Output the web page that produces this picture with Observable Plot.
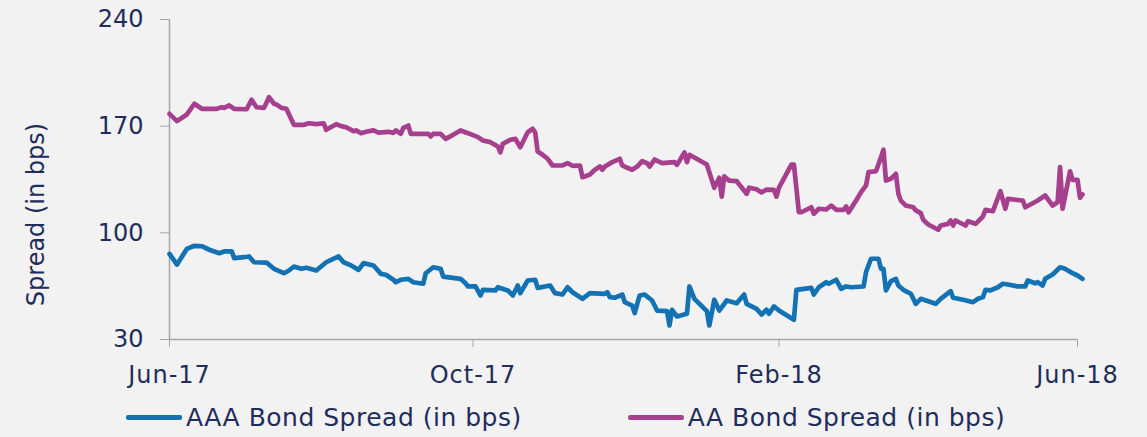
<!DOCTYPE html>
<html>
<head>
<meta charset="utf-8">
<script src="https://cdn.jsdelivr.net/npm/d3@7"></script>
<script src="https://cdn.jsdelivr.net/npm/@observablehq/plot@0.6"></script>
<style>
  html, body { margin: 0; padding: 0; background: #f2f2f2; }
  #chart { width: 1147px; height: 437px; overflow: hidden; background: #f2f2f2; }
  .legend { display: flex; align-items: center; height: 50px; padding-left: 126px;
            font-family: "DejaVu Sans", sans-serif; font-size: 25px; letter-spacing: 0.5px; color: #1f2d5c; }
  .legend .item { display: flex; align-items: center; }
  .legend .sw { display: inline-block; width: 56px; height: 5px; border-radius: 2px; margin-right: 4px; }
  g[aria-label="x-axis tick label"] text { letter-spacing: 1px; }
</style>
</head>
<body>
<div id="chart"></div>
<script>
const yTitle = "Spread (in bps)";
const yTicks = [30, 100, 170, 240];
const xTicks = ["2017-06-01", "2017-10-01", "2018-02-01", "2018-06-01"];
const seriesNames = ["AAA Bond Spread (in bps)", "AA Bond Spread (in bps)"];
const seriesColors = ["#1372b3", "#a6408e"];

const aaaDates = [
  "2017-06-01","2017-06-04","2017-06-08","2017-06-11","2017-06-14","2017-06-17","2017-06-21","2017-06-23","2017-06-26","2017-06-27",
  "2017-07-01","2017-07-03","2017-07-05","2017-07-10","2017-07-13","2017-07-17","2017-07-19","2017-07-21","2017-07-24","2017-07-26",
  "2017-07-30","2017-08-03","2017-08-05","2017-08-08","2017-08-10","2017-08-13","2017-08-16","2017-08-18","2017-08-22","2017-08-25",
  "2017-08-27","2017-08-30","2017-08-31","2017-09-02","2017-09-05","2017-09-07","2017-09-11","2017-09-12","2017-09-15","2017-09-18",
  "2017-09-19","2017-09-26","2017-09-28","2017-09-29","2017-10-02","2017-10-04","2017-10-05","2017-10-10","2017-10-11","2017-10-15",
  "2017-10-17","2017-10-19","2017-10-20","2017-10-23","2017-10-26","2017-10-27","2017-11-01","2017-11-03","2017-11-06","2017-11-08",
  "2017-11-10","2017-11-14","2017-11-17","2017-11-23","2017-11-24","2017-11-25","2017-11-27","2017-11-30","2017-12-01","2017-12-04",
  "2017-12-05","2017-12-07","2017-12-09","2017-12-12","2017-12-14","2017-12-18","2017-12-19","2017-12-20","2017-12-22","2017-12-26",
  "2017-12-27","2017-12-29","2018-01-03","2018-01-04","2018-01-06","2018-01-08","2018-01-11","2018-01-15","2018-01-18","2018-01-19",
  "2018-01-23","2018-01-25","2018-01-27","2018-01-28","2018-01-30","2018-02-01","2018-02-07","2018-02-08","2018-02-14","2018-02-15",
  "2018-02-17","2018-02-20","2018-02-21","2018-02-24","2018-02-26","2018-02-28","2018-03-02","2018-03-07","2018-03-08","2018-03-10",
  "2018-03-13","2018-03-14","2018-03-15","2018-03-16","2018-03-18","2018-03-20","2018-03-21","2018-03-23","2018-03-26","2018-03-27",
  "2018-03-28","2018-03-30","2018-04-05","2018-04-07","2018-04-11","2018-04-12","2018-04-16","2018-04-20","2018-04-22","2018-04-24",
  "2018-04-25","2018-04-27","2018-04-30","2018-05-02","2018-05-04","2018-05-08","2018-05-11","2018-05-12","2018-05-15","2018-05-16",
  "2018-05-18","2018-05-19","2018-05-22","2018-05-25","2018-05-27","2018-05-30","2018-06-01","2018-06-03"
];
const aaaValues = [
  86.2,79.2,89.5,91.5,91.2,88.9,86.6,87.8,87.8,83.4,
  84.0,84.5,80.7,80.5,76.4,73.5,75.3,77.9,76.4,77.1,
  75.3,80.7,82.3,84.5,80.7,78.6,75.7,80.1,78.6,73.1,
  72.5,69.2,67.6,69.2,69.8,67.6,66.6,73.5,77.4,76.4,
  71.3,69.8,66.9,64.8,64.8,58.9,62.6,62.2,64.3,62.2,
  58.9,65.4,60.4,68.7,69.2,63.9,65.4,60.4,59.5,64.3,
  61.0,56.7,60.4,60.0,61.0,57.8,57.4,59.5,54.5,52.3,
  47.3,58.9,59.5,55.6,49.0,48.6,39.2,49.5,45.1,46.9,
  64.8,56.7,48.6,39.2,56.1,49.0,55.6,53.8,59.5,53.4,
  50.1,46.4,49.5,46.9,51.7,49.0,42.9,62.6,63.9,59.5,
  64.3,67.6,66.6,69.2,63.3,64.8,64.3,64.8,74.2,83.0,
  83.0,76.4,76.4,62.2,68.3,69.8,65.4,62.6,60.0,56.7,
  53.4,56.7,53.4,56.7,61.7,57.4,56.1,54.5,56.7,57.8,
  62.6,62.2,64.3,66.6,66.1,64.8,64.8,68.7,66.9,67.6,
  65.4,69.8,72.7,77.4,76.4,73.5,72.0,69.8
];

const aaDates = [
  "2017-06-01","2017-06-04","2017-06-08","2017-06-11","2017-06-14","2017-06-20","2017-06-22","2017-06-23","2017-06-25","2017-06-27",
  "2017-07-02","2017-07-04","2017-07-06","2017-07-09","2017-07-11","2017-07-13","2017-07-14","2017-07-16","2017-07-18","2017-07-21",
  "2017-07-25","2017-07-27","2017-07-30","2017-08-02","2017-08-03","2017-08-07","2017-08-09","2017-08-11","2017-08-14","2017-08-15",
  "2017-08-17","2017-08-19","2017-08-22","2017-08-24","2017-08-28","2017-08-30","2017-08-31","2017-09-02","2017-09-03","2017-09-05",
  "2017-09-06","2017-09-13","2017-09-14","2017-09-15","2017-09-18","2017-09-20","2017-09-23","2017-09-26","2017-09-29","2017-10-03",
  "2017-10-05","2017-10-08","2017-10-11","2017-10-12","2017-10-13","2017-10-16","2017-10-18","2017-10-20","2017-10-23","2017-10-25",
  "2017-10-26","2017-10-27","2017-10-29","2017-10-31","2017-11-02","2017-11-06","2017-11-08","2017-11-10","2017-11-13","2017-11-14",
  "2017-11-16","2017-11-17","2017-11-19","2017-11-21","2017-11-22","2017-11-23","2017-11-26","2017-11-29","2017-11-30","2017-12-02",
  "2017-12-04","2017-12-06","2017-12-08","2017-12-10","2017-12-11","2017-12-13","2017-12-16","2017-12-21","2017-12-22","2017-12-25",
  "2017-12-26","2017-12-27","2018-01-03","2018-01-06","2018-01-08","2018-01-09","2018-01-10","2018-01-12","2018-01-15","2018-01-19",
  "2018-01-20","2018-01-23","2018-01-25","2018-01-27","2018-01-30","2018-01-31","2018-02-01","2018-02-06","2018-02-07","2018-02-09",
  "2018-02-10","2018-02-14","2018-02-15","2018-02-17","2018-02-20","2018-02-22","2018-02-24","2018-02-27","2018-02-28","2018-03-01",
  "2018-03-04","2018-03-06","2018-03-08","2018-03-09","2018-03-12","2018-03-14","2018-03-15","2018-03-16","2018-03-18","2018-03-20",
  "2018-03-21","2018-03-22","2018-03-24","2018-03-27","2018-03-28","2018-03-30","2018-03-31","2018-04-02","2018-04-06","2018-04-07",
  "2018-04-10","2018-04-11","2018-04-12","2018-04-13","2018-04-17","2018-04-18","2018-04-21","2018-04-24","2018-04-25","2018-04-28",
  "2018-05-01","2018-05-03","2018-05-04","2018-05-10","2018-05-11","2018-05-14","2018-05-16","2018-05-19","2018-05-22","2018-05-24",
  "2018-05-25","2018-05-26","2018-05-29","2018-05-30","2018-06-01","2018-06-02","2018-06-03"
];
const aaValues = [
  178.1,173.3,177.7,184.7,181.4,181.4,182.4,182.0,183.6,181.4,
  181.1,187.3,182.4,182.0,189.0,184.7,184.2,182.0,181.4,170.9,
  170.9,171.9,171.3,171.9,167.6,171.3,170.0,169.3,166.7,167.2,
  165.4,166.3,167.2,165.8,166.3,165.6,167.2,165.0,168.9,170.4,
  165.0,165.0,163.2,165.0,165.0,161.7,164.3,167.2,165.4,162.8,
  160.6,159.5,156.7,152.9,158.4,161.1,161.7,156.2,166.0,168.3,
  166.0,153.4,151.2,148.6,144.2,144.2,145.7,144.0,144.2,136.5,
  137.6,138.3,141.4,143.5,141.4,143.5,146.4,148.6,144.2,142.7,
  141.4,143.5,147.0,145.7,143.5,148.1,145.7,146.4,144.6,152.7,
  146.4,151.2,144.8,129.6,136.1,123.8,137.0,134.3,133.9,125.6,
  129.6,128.6,126.5,128.4,128.2,123.8,129.6,144.8,144.8,113.5,
  113.5,116.8,112.5,115.8,115.3,117.9,115.1,115.1,117.3,113.5,
  121.2,126.7,131.1,139.8,140.4,149.6,154.5,134.3,135.5,138.7,
  125.6,121.2,117.9,116.8,114.7,112.9,108.6,105.5,102.0,104.8,
  105.9,108.1,104.8,108.1,104.8,107.6,105.9,110.7,115.1,114.2,
  127.3,115.8,122.3,121.2,116.8,119.4,121.2,124.5,117.9,120.1,
  143.1,115.8,140.4,134.8,134.8,123.0,125.2
];

const navy = "#1f2d5c";
const gray = "#a6a6a6";
const aaaRows = aaaDates.map((d, i) => ({date: new Date(d), value: aaaValues[i]}));
const aaRows = aaDates.map((d, i) => ({date: new Date(d), value: aaValues[i]}));

const chart = Plot.plot({
  width: 1147,
  height: 392,
  marginTop: 19,
  marginBottom: 53,
  marginLeft: 169,
  marginRight: 70,
  x: {type: "utc", domain: [new Date(xTicks[0]), new Date(xTicks[xTicks.length - 1])]},
  y: {domain: [yTicks[0], yTicks[yTicks.length - 1]]},
  style: {background: "#f2f2f2", fontFamily: "DejaVu Sans, sans-serif", fontSize: "24px", color: navy, overflow: "visible"},
  marks: [
    Plot.axisY({ticks: yTicks, tickSize: 9, tickPadding: 17, stroke: gray, fill: navy, label: null, tickFormat: d => String(d)}),
    Plot.axisX({ticks: xTicks.map(d => new Date(d)), tickSize: 8, tickPadding: 18, stroke: gray, fill: navy, label: null, tickFormat: d3.utcFormat("%b-%y")}),
    Plot.ruleX([new Date(xTicks[0])], {stroke: gray, strokeWidth: 1.5}),
    Plot.ruleY([yTicks[0]], {stroke: gray, strokeWidth: 1.5}),
    Plot.line(aaaRows, {x: "date", y: "value", stroke: seriesColors[0], strokeWidth: 4.7}),
    Plot.line(aaRows, {x: "date", y: "value", stroke: seriesColors[1], strokeWidth: 4.7}),
    Plot.text([yTitle], {text: d => d, frameAnchor: "left", rotate: -90, dx: -133, dy: 35, fill: navy, fontSize: 24, textAnchor: "middle"})
  ]
});

const root = document.getElementById("chart");
root.appendChild(chart);
const legend = document.createElement("div");
legend.className = "legend";
seriesNames.forEach((name, i) => {
  const item = document.createElement("div");
  item.className = "item";
  item.style.marginRight = i === 0 ? "106px" : "0";
  const sw = document.createElement("span");
  sw.className = "sw";
  sw.style.background = seriesColors[i];
  const label = document.createElement("span");
  label.textContent = name;
  item.appendChild(sw);
  item.appendChild(label);
  legend.appendChild(item);
});
root.appendChild(legend);
</script>
</body>
</html>
